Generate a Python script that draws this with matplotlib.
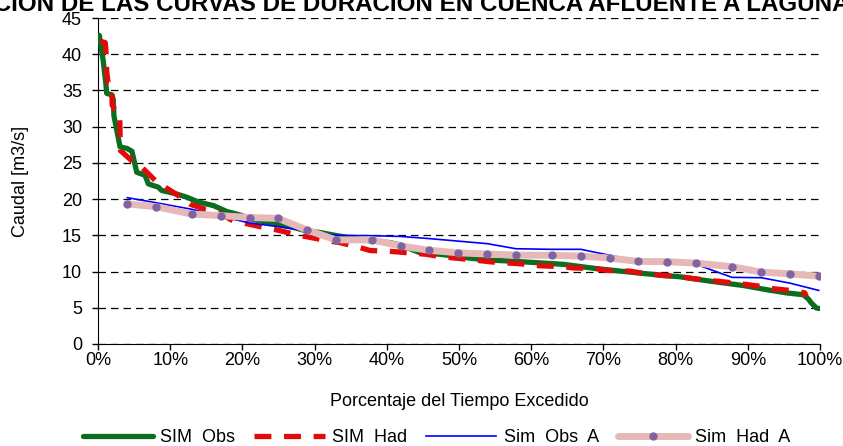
import numpy as np
import matplotlib
matplotlib.use('Agg')
import matplotlib.pyplot as plt
from matplotlib.ticker import PercentFormatter, MultipleLocator

plt.rcParams['font.family'] = ['Liberation Sans', 'DejaVu Sans']

# SIM Obs (curva de duracion con datos observados)
obs_pct = [0.18, 0.73, 1.1, 1.2, 1.9, 2.1, 2.2, 3.05, 4.0, 4.7, 5.36, 6.5, 6.97, 8.35, 8.8,
           10.9, 12.3, 13.9, 16.0, 17.8, 19.7, 21.05, 22.4, 24.75, 27.05, 28.9, 30.7, 33.1,
           37.7, 40.4, 41.8, 44.6, 47.4, 51.1, 53.8, 57.1, 61.2, 64.4, 69.1, 73.7, 78.3,
           80.6, 84.8, 89.4, 92.6, 95.4, 97.7, 98.4, 98.8, 99.5, 99.9]
obs_q = [42.6, 39.0, 35.8, 34.6, 34.4, 33.8, 31.5, 27.2, 27.0, 26.6, 23.7, 23.3, 22.1, 21.65, 21.2,
         20.7, 20.26, 19.6, 19.1, 18.3, 17.8, 17.3, 17.0, 16.55, 16.1, 15.6, 15.4, 14.95,
         14.23, 14.0, 13.7, 12.6, 12.38, 11.9, 11.6, 11.45, 11.2, 11.0, 10.4, 9.92, 9.46,
         9.28, 8.67, 8.07, 7.5, 7.05, 6.8, 6.2, 5.66, 4.97, 4.9]

# SIM Had
had_pct = [0.3, 1.0, 1.1, 1.2, 1.4, 1.9, 1.95, 2.35, 3.0, 3.05, 3.1, 4.9, 6.05, 7.9, 9.3, 11.1,
           12.75, 14.8, 16.4, 18.7, 19.7, 22.9, 24.75, 26.6, 28.4, 32.1, 33.5, 36.3, 37.7,
           40.4, 42.8, 45.5, 47.4, 50.1, 52.0, 54.8, 56.6, 59.4, 61.2, 64.4, 65.8, 69.1,
           70.4, 73.7, 75.0, 78.3, 80.1, 82.4, 84.8, 87.1, 89.1, 91.7, 93.8, 96.1, 97.9, 98.1]
had_q = [41.8, 41.6, 40.4, 37.6, 36.0, 35.8, 33.0, 32.3, 31.85, 29.1, 26.7, 25.1, 24.4, 22.6, 21.65,
         20.5, 19.3, 18.6, 18.3, 17.0, 16.8, 16.1, 15.75, 15.3, 14.9, 14.2, 14.0, 13.3, 12.9,
         12.8, 12.6, 12.38, 12.06, 11.8, 11.6, 11.3, 11.2, 11.0, 10.8, 10.67, 10.5, 10.4,
         10.15, 10.06, 9.83, 9.46, 9.36, 9.04, 8.76, 8.53, 8.3, 7.97, 7.6, 7.37, 7.05, 6.58]

# Series A (24 puntos)
a_pct = [4.06, 8.03, 12.98, 17.04, 21.05, 24.97, 28.99, 32.96, 37.99, 41.93, 45.89, 49.90,
         53.92, 57.89, 62.84, 66.86, 70.91, 74.83, 78.85, 82.83, 87.81, 91.87, 95.84, 99.82]
obs_a_q = [20.2, 19.5, 18.6, 17.6, 16.7, 16.2, 15.6, 15.0, 14.95, 14.85, 14.55, 14.2,
           13.85, 13.15, 13.07, 13.07, 12.24, 11.5, 11.2, 11.0, 9.2, 9.15, 8.4, 7.4]
had_a_q = [19.33, 18.96, 17.94, 17.71, 17.46, 17.34, 15.72, 14.37, 14.37, 13.53, 12.93, 12.59,
           12.42, 12.27, 12.24, 12.14, 11.86, 11.40, 11.36, 11.17, 10.67, 9.92, 9.69, 9.36]

title = 'COMPARACION DE LAS CURVAS DE DURACION EN CUENCA AFLUENTE A LAGUNA'

fig = plt.figure(figsize=(8.43, 4.46), dpi=100)
ax = fig.add_axes([0.1163, 0.2287, 0.8564, 0.7309])

x = lambda p: np.array(p) / 100.0

ax.plot(x(obs_pct), obs_q, color='#0b6e1f', lw=3.8, label='SIM  Obs', zorder=3,
        solid_joinstyle='round', solid_capstyle='round')
ax.plot(x(had_pct), had_q, color='#e30a0a', lw=3.8, label='SIM  Had', zorder=4,
        dashes=(3.2, 2.4))
ax.plot(x(a_pct), obs_a_q, color='#0000ff', lw=1.2, label='Sim  Obs  A', zorder=5)
ax.plot(x(a_pct), had_a_q, color='#e6b9b8', lw=5, marker='o', markersize=5,
        markerfacecolor='#8064a2', markeredgecolor='#8064a2', label='Sim  Had  A', zorder=6,
        solid_capstyle='round')

ax.set_xlim(0, 1)
ax.set_ylim(0, 45)
ax.xaxis.set_major_locator(MultipleLocator(0.1))
ax.xaxis.set_major_formatter(PercentFormatter(1.0, decimals=0))
ax.yaxis.set_major_locator(MultipleLocator(5))
ax.grid(axis='y', color='black', linestyle=(0, (6, 4)), linewidth=0.9)
ax.set_axisbelow(True)
for s in ['top', 'right']:
    ax.spines[s].set_visible(False)
ax.tick_params(labelsize=13, width=1, direction='out')
ax.tick_params(axis='y', length=4.5, pad=7)
ax.tick_params(axis='x', length=4, pad=2)
ax.set_xlabel('Porcentaje del Tiempo Excedido', fontsize=13, labelpad=17)
ax.set_ylabel('Caudal [m3/s]', fontsize=13, labelpad=24)

fig.legend(loc='center', bbox_to_anchor=(0.518, 0.018), ncol=4, frameon=False, fontsize=13,
           handlelength=3.9, handletextpad=0.4, columnspacing=1.05)

fig.text(1.008, 1 - 11 / 446, title, ha='right', va='baseline', fontsize=17.4, weight='bold')

fig.savefig('out.png', dpi=100)
